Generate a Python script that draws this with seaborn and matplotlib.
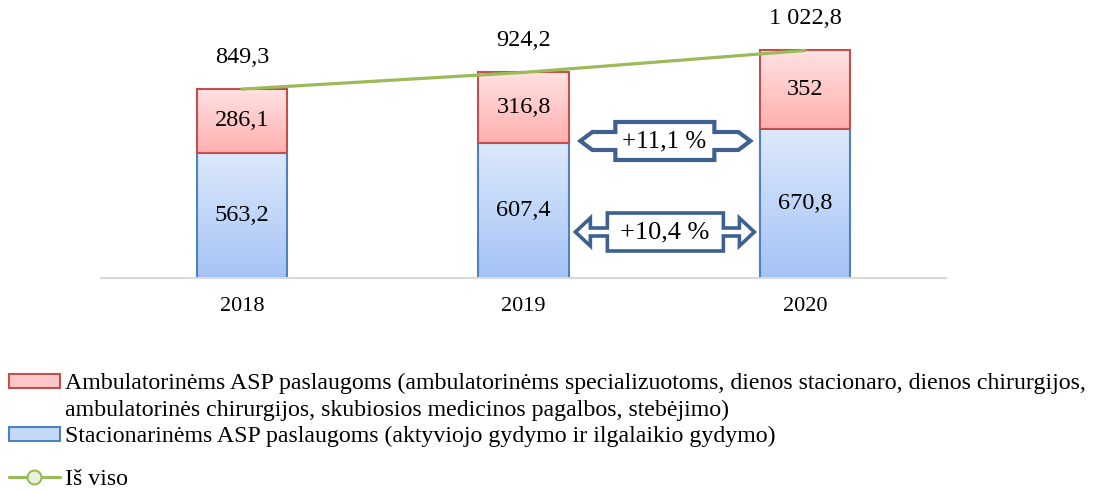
import numpy as np
import matplotlib
matplotlib.use("Agg")
import matplotlib.pyplot as plt
import matplotlib.transforms as mtransforms
from matplotlib.patches import Patch, Polygon
from matplotlib.lines import Line2D
import seaborn as sns

# ── Data ─────────────────────────────────────────────────────────────────────
YEARS       = ["2018", "2019", "2020"]
STACIONAR   = [563.2, 607.4, 670.8]
AMBULATOR   = [286.1, 316.8, 352.0]
TOTAL       = [849.3, 924.2, 1022.8]
GROWTH_AMB  = "+11,1 %"
GROWTH_STAC = "+10,4 %"

LBL_AMB_1 = "Ambulatorinėms ASP paslaugoms (ambulatorinėms specializuotoms, dienos stacionaro, dienos chirurgijos,"
LBL_AMB_2 = "ambulatorinės chirurgijos, skubiosios medicinos pagalbos, stebėjimo)"
LBL_STAC  = "Stacionarinėms ASP paslaugoms (aktyviojo gydymo ir ilgalaikio gydymo)"
LBL_TOTAL = "Iš viso"

# ── Styling ──────────────────────────────────────────────────────────────────
sns.set_theme(style="white")
plt.rcParams["font.family"] = ["Liberation Serif", "DejaVu Serif"]
plt.rcParams["text.color"] = "black"
plt.rcParams["xtick.labelcolor"] = "black"
plt.rcParams["legend.labelcolor"] = "black"

RED_EDGE, BLUE_EDGE = "#c0504d", "#4f81bd"
RED_TOP, RED_BOT = "#ffe1e1", "#ffafaf"
BLUE_TOP, BLUE_BOT = "#dde9fc", "#a5c3f5"
GREEN = "#9bbb59"
ARROW = "#3f6190"
BAR_W = 0.32
FS_VAL = 17.5
FS_LEG = 17.2


def fmt(v):
    """Lithuanian number format: space thousands, comma decimals."""
    if float(v).is_integer():
        s = f"{v:,.0f}"
    else:
        s = f"{v:,.1f}"
    return s.replace(",", " ").replace(".", ",")


def gradient_fill(ax, patch, top, bottom):
    x0, y0 = patch.get_x(), patch.get_y()
    w, h = patch.get_width(), patch.get_height()
    c1 = np.array(matplotlib.colors.to_rgb(top))
    c2 = np.array(matplotlib.colors.to_rgb(bottom))
    t = np.linspace(0, 1, 64)[:, None]
    img = (c1 * (1 - t) + c2 * t)[:, None, :]
    im = ax.imshow(img, extent=[x0, x0 + w, y0, y0 + h], origin="upper",
                   aspect="auto", zorder=1.5, interpolation="bilinear")
    im.set_clip_path(patch)
    patch.set_facecolor("none")


def double_arrow(ax, fig, cx, cy, verts_px, text, fs, lw):
    trans = fig.dpi_scale_trans + mtransforms.ScaledTranslation(cx, cy, ax.transData)
    poly = Polygon(np.array(verts_px) / fig.dpi, closed=True, transform=trans,
                   facecolor="white", edgecolor=ARROW, linewidth=lw,
                   joinstyle="miter", zorder=4, clip_on=False)
    ax.add_patch(poly)
    ax.text(cx, cy, text, ha="center", va="center", fontsize=fs, zorder=5)


fig = plt.figure(figsize=(10.98, 4.93), dpi=100)
ax = fig.add_axes([0.092, 0.436, 0.7696, 0.5416])

x = np.arange(len(YEARS))

# blue bars (stationary) via seaborn, red stacked on top
sns.barplot(x=YEARS, y=STACIONAR, ax=ax, width=BAR_W, color=BLUE_TOP,
            edgecolor=BLUE_EDGE, linewidth=1.5, zorder=2)
blue_bars = list(ax.patches)
red_bars = ax.bar(x, AMBULATOR, bottom=STACIONAR, width=BAR_W, color=RED_TOP,
                  edgecolor=RED_EDGE, linewidth=1.5, zorder=2.1)

for p in blue_bars:
    gradient_fill(ax, p, BLUE_TOP, BLUE_BOT)
for p in red_bars:
    gradient_fill(ax, p, RED_TOP, RED_BOT)

# total line
sns.lineplot(x=x, y=TOTAL, ax=ax, color=GREEN, linewidth=2.3, zorder=3)

# value labels
for i in range(len(YEARS)):
    ax.text(x[i], STACIONAR[i] / 2, fmt(STACIONAR[i]), ha="center", va="center", fontsize=FS_VAL, zorder=5)
    ax.text(x[i], STACIONAR[i] + AMBULATOR[i] / 2, fmt(AMBULATOR[i]), ha="center", va="center",
            fontsize=FS_VAL, zorder=5)
    ax.annotate(fmt(TOTAL[i]), (x[i], TOTAL[i]), xytext=(0, 23), textcoords="offset points",
                ha="center", va="center", fontsize=FS_VAL)

# growth arrows between 2019 and 2020
upper = [(-84, 0), (-72, 9), (-49, 9), (-49, 19), (50, 19), (50, 9), (74, 9), (86, 0),
         (74, -9), (50, -9), (50, -19), (-49, -19), (-49, -9), (-72, -9)]
lower = [(-89, 0), (-74, 14), (-74, 4), (-57, 4), (-57, 19), (59, 19), (59, 4), (75, 4),
         (75, 14), (90, 0), (75, -14), (75, -4), (59, -4), (59, -19), (-57, -19), (-57, -4),
         (-74, -4), (-74, -14)]
double_arrow(ax, fig, 1.5, 616, upper, GROWTH_AMB, 18, 3.0)
double_arrow(ax, fig, 1.5, 207, lower, GROWTH_STAC, 19, 2.6)

# axes
ax.set_xlim(-0.5, 2.5)
ax.set_ylim(0, 1200)
ax.set_yticks([])
for s in ["top", "left", "right"]:
    ax.spines[s].set_visible(False)
ax.spines["bottom"].set_color("#d9d9d9")
ax.spines["bottom"].set_linewidth(1.5)
ax.tick_params(axis="x", length=0, pad=14, labelsize=16)
ax.set_xlabel("")

# legends
h_amb = Patch(facecolor="#ffc8c8", edgecolor=RED_EDGE, linewidth=1.5)
h_none = Patch(facecolor="none", edgecolor="none")
h_stac = Patch(facecolor="#c4d8f8", edgecolor=BLUE_EDGE, linewidth=1.5)
fig.legend([h_amb, h_none, h_stac], [LBL_AMB_1, LBL_AMB_2, LBL_STAC],
           loc="upper left", bbox_to_anchor=(0.008, 0.243), frameon=False,
           fontsize=FS_LEG, handlelength=2.15, handleheight=0.55, handletextpad=0.22,
           labelspacing=0.22, borderpad=0, borderaxespad=0)
h_tot = Line2D([], [], color=GREEN, linewidth=2.3, marker="o", markersize=10,
               markerfacecolor="#ebf1de", markeredgecolor=GREEN, markeredgewidth=1.5)
fig.legend([h_tot], [LBL_TOTAL], loc="upper left", bbox_to_anchor=(0.008, 0.05),
           frameon=False, fontsize=FS_LEG, handlelength=2.15, handletextpad=0.22,
           borderpad=0, borderaxespad=0)

fig.savefig("out.png", dpi=100)
